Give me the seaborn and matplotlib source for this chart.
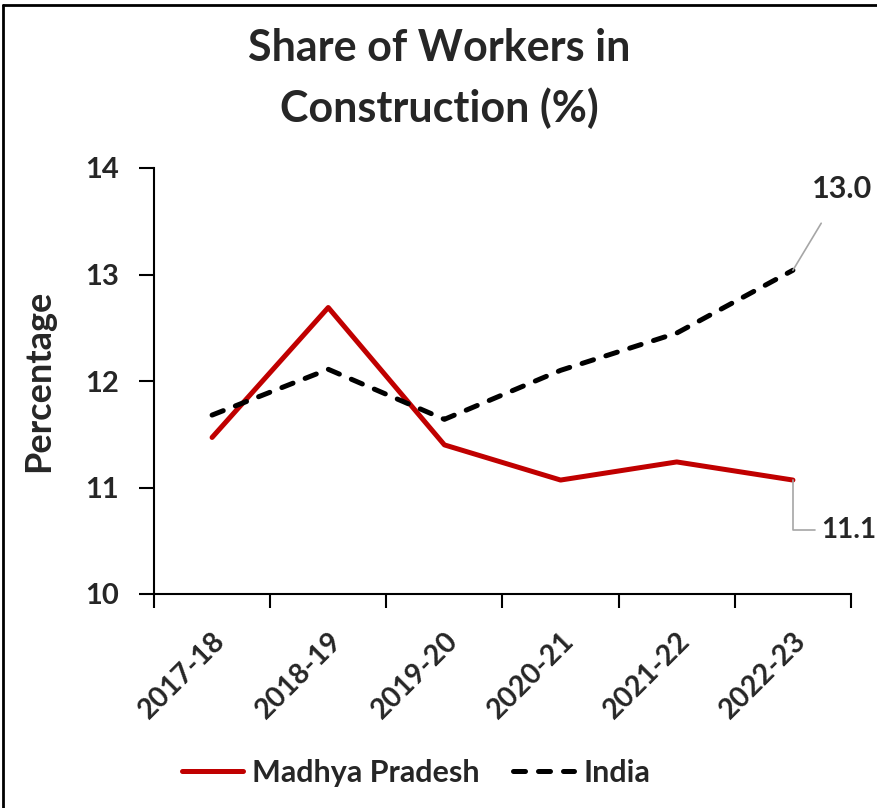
import pandas as pd
import numpy as np
import seaborn as sns
import matplotlib
from matplotlib import pyplot as plt
from matplotlib.lines import Line2D
matplotlib.use('Agg')

years = ['2017-18', '2018-19', '2019-20', '2020-21', '2021-22', '2022-23']
madhya_pradesh = [11.47, 12.69, 11.40, 11.07, 11.24, 11.07]
india = [11.68, 12.11, 11.64, 12.10, 12.45, 13.04]
yticks = [10, 11, 12, 13, 14]

df = pd.DataFrame({
    'Year': years * 2,
    'Share': madhya_pradesh + india,
    'Region': ['Madhya Pradesh'] * len(years) + ['India'] * len(years),
})

sns.set_style('white')
plt.rcParams['font.family'] = ['Lato', 'DejaVu Sans']
plt.rcParams['lines.dash_capstyle'] = 'round'
plt.rcParams['lines.solid_capstyle'] = 'round'

fig = plt.figure(figsize=(8.78, 8.08), dpi=100)
ax = fig.add_axes([154/878, 1 - 594/808, (851-154)/878, (594-168)/808])

sns.lineplot(
    data=df, x='Year', y='Share', hue='Region', style='Region',
    palette={'Madhya Pradesh': '#C00000', 'India': 'black'},
    dashes={'Madhya Pradesh': '', 'India': (2.4, 2.6)},
    linewidth=3.6, ax=ax, legend=False, sort=False
)

ax.set_xlim(-0.5, len(years) - 0.5)
ax.set_ylim(10, 14)
ax.set_yticks(yticks, [str(v) for v in yticks], fontsize=21, fontweight='bold')
ax.set_xticks(np.arange(len(years)), years, rotation=45, ha='right',
              rotation_mode='anchor', fontsize=20.5, fontweight='bold')
ax.set_xticks(np.arange(len(years) + 1) - 0.5, minor=True)
ax.tick_params(axis='x', which='major', length=0, pad=24)
ax.tick_params(axis='x', which='minor', length=10, width=1.5, direction='out',
               color='black', bottom=True)
ax.tick_params(axis='y', length=11, width=1.5, direction='out', color='black',
               pad=14, left=True)

ax.set_xlabel('')
ax.set_ylabel('Percentage', fontsize=26, fontweight='bold', labelpad=22)
sns.despine(ax=ax)
for s in ['left', 'bottom']:
    ax.spines[s].set_linewidth(1.5)
    ax.spines[s].set_color('black')

# end labels with leader lines
ax.annotate(f'{india[-1]:.1f}', xy=(5, india[-1]), xytext=(5.16, 13.8),
            fontsize=22, fontweight='bold', ha='left', va='center',
            arrowprops=dict(arrowstyle='-', color='#A6A6A6', lw=1.2,
                            shrinkA=14, shrinkB=0), annotation_clip=False)
ax.annotate(f'{madhya_pradesh[-1]:.1f}', xy=(5, madhya_pradesh[-1]), xytext=(5.24, 10.6),
            fontsize=20, fontweight='bold', ha='left', va='center',
            arrowprops=dict(arrowstyle='-', color='#A6A6A6', lw=1.2,
                            shrinkA=2, shrinkB=0,
                            connectionstyle='angle,angleA=0,angleB=90,rad=0'),
            annotation_clip=False)

fig.suptitle('Share of Workers in\nConstruction (%)', x=0.5, y=0.965,
             fontsize=31, fontweight='bold', linespacing=1.55)

handles = [Line2D([], [], color='#C00000', lw=3.6),
           Line2D([], [], color='black', lw=3.6, dashes=(2.4, 2.6))]
fig.legend(handles, ['Madhya Pradesh', 'India'], loc='center',
           bbox_to_anchor=(0.474, 1 - 773/808), ncol=2, frameon=False,
           handlelength=2.0, columnspacing=1.1, handletextpad=0.3,
           prop={'weight': 'bold', 'size': 22})

# partial frame (top and left) as in the source
fig.add_artist(Line2D([3/878, 3/878], [0, 1 - 5/808], color='black', lw=2, transform=fig.transFigure))
fig.add_artist(Line2D([3/878, 1], [1 - 5/808, 1 - 5/808], color='black', lw=2, transform=fig.transFigure))

fig.savefig('out.png', dpi=100)
